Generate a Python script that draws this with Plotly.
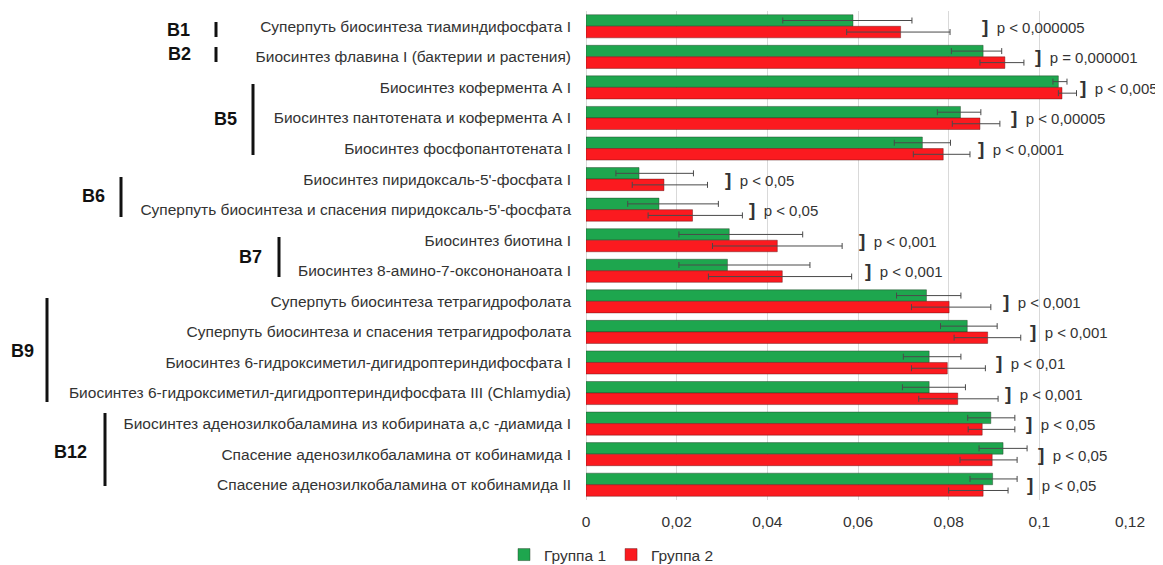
import plotly.graph_objects as go

categories = [
    "Суперпуть биосинтеза тиаминдифосфата I",
    "Биосинтез флавина I (бактерии и растения)",
    "Биосинтез кофермента А I",
    "Биосинтез пантотената и кофермента А I",
    "Биосинтез фосфопантотената I",
    "Биосинтез пиридоксаль-5'-фосфата I",
    "Суперпуть биосинтеза и спасения пиридоксаль-5'-фосфата",
    "Биосинтез биотина I",
    "Биосинтез 8-амино-7-оксононаноата I",
    "Суперпуть биосинтеза тетрагидрофолата",
    "Суперпуть биосинтеза и спасения тетрагидрофолата",
    "Биосинтез 6-гидроксиметил-дигидроптериндифосфата I",
    "Биосинтез 6-гидроксиметил-дигидроптериндифосфата III (Chlamydia)",
    "Биосинтез аденозилкобаламина из кобирината а,с -диамида I",
    "Спасение аденозилкобаламина от кобинамида I",
    "Спасение аденозилкобаламина от кобинамида II",
]

group1 = [0.0589, 0.0876, 0.1042, 0.0826, 0.0742, 0.0117, 0.0161, 0.0316,
          0.0312, 0.0751, 0.0841, 0.0757, 0.0757, 0.0893, 0.0920, 0.0897]
group1_err_plus = [0.0130, 0.0041, 0.0019, 0.0045, 0.0062, 0.0120, 0.0131, 0.0162,
                   0.0182, 0.0076, 0.0066, 0.0070, 0.0080, 0.0053, 0.0053, 0.0054]
group1_err_minus = [0.0155, 0.0070, 0.0012, 0.0051, 0.0062, 0.0051, 0.0069, 0.0111,
                    0.0107, 0.0066, 0.0059, 0.0057, 0.0059, 0.0051, 0.0053, 0.0050]

group2 = [0.0694, 0.0924, 0.1050, 0.0869, 0.0788, 0.0172, 0.0235, 0.0422,
          0.0433, 0.0801, 0.0886, 0.0797, 0.0820, 0.0874, 0.0896, 0.0876]
group2_err_plus = [0.0109, 0.0042, 0.0032, 0.0044, 0.0059, 0.0096, 0.0110, 0.0143,
                   0.0153, 0.0092, 0.0073, 0.0084, 0.0089, 0.0072, 0.0055, 0.0055]
group2_err_minus = [0.0119, 0.0055, 0.0008, 0.0061, 0.0066, 0.0070, 0.0098, 0.0143,
                    0.0163, 0.0083, 0.0074, 0.0079, 0.0086, 0.0031, 0.0071, 0.0076]

p_values = ["p < 0,000005", "p = 0,000001", "p < 0,005", "p < 0,00005", "p < 0,0001",
            "p < 0,05", "p < 0,05", "p < 0,001", "p < 0,001", "p < 0,001",
            "p < 0,001", "p < 0,01", "p < 0,001", "p < 0,05", "p < 0,05", "p < 0,05"]

tick_vals = [0, 0.02, 0.04, 0.06, 0.08, 0.10, 0.12]
tick_text = ["0", "0,02", "0,04", "0,06", "0,08", "0,1", "0,12"]

# vitamin groups: label, first row, last row
vit_groups = [("B1", 0, 0), ("B2", 1, 1), ("B5", 2, 4), ("B6", 5, 6),
              ("B7", 7, 8), ("B9", 9, 12), ("B12", 13, 15)]

# ---- layout / placement (page pixels; the page body has an 8px margin) ----
OFF = 8
W, H = 1163 - OFF, 565 - OFF
PL, PR, PT, PB = 586, 1130, 11, 500
p_label_x = [0.0870, 0.0985, 0.1086, 0.0934, 0.0861, 0.0303, 0.0356, 0.0597,
             0.0610, 0.0916, 0.0976, 0.0901, 0.0919, 0.0967, 0.0993, 0.0969]
# (label x center, label y, line x, line y0, line y1)
group_pos = [
    (178, 30, 216, 22, 37),
    (179, 54, 216, 47, 62),
    (225, 119, 253, 84, 155),
    (93, 196, 121, 177, 217),
    (250, 257, 279, 237, 277),
    (22, 351, 47, 298, 402),
    (70, 452, 105, 413, 486),
]


def px_x(px):
    return (px - PL) / (PR - PL)


def px_y(py):
    return (PB - py) / (PB - PT)


GREEN = "#1ea64e"
RED = "#fb1a1f"
FONT = "Liberation Sans, Arial, sans-serif"
FS = 15.5

fig = go.Figure()
fig.add_trace(go.Bar(
    y=categories, x=group1, orientation="h", name="Группа 1",
    marker=dict(color=GREEN, line=dict(color="rgba(40,60,40,0.55)", width=0.8)),
    error_x=dict(type="data", array=group1_err_plus, arrayminus=group1_err_minus,
                 symmetric=False, color="#4a4a4a", thickness=1, width=3),
))
fig.add_trace(go.Bar(
    y=categories, x=group2, orientation="h", name="Группа 2",
    marker=dict(color=RED, line=dict(color="rgba(90,20,20,0.55)", width=0.8)),
    error_x=dict(type="data", array=group2_err_plus, arrayminus=group2_err_minus,
                 symmetric=False, color="#4a4a4a", thickness=1, width=3),
))

annotations = []
for cat, px, txt in zip(categories, p_label_x, p_values):
    annotations.append(dict(
        x=px, y=cat, xref="x", yref="y", xanchor="left", yanchor="middle",
        text="<b><span style='font-size:19px'>]</span></b>&nbsp;&nbsp;" + txt, showarrow=False,
        font=dict(family=FONT, size=15, color="#333333"),
    ))

shapes = []
for (name, r0, r1), (lx, ly, vx, vy0, vy1) in zip(vit_groups, group_pos):
    annotations.append(dict(
        x=px_x(lx), y=px_y(ly), xref="paper", yref="paper",
        xanchor="center", yanchor="middle", text="<b>" + name + "</b>",
        showarrow=False, font=dict(family=FONT, size=18, color="#111111"),
    ))
    shapes.append(dict(
        type="line", xref="paper", yref="paper",
        x0=px_x(vx), x1=px_x(vx), y0=px_y(vy0), y1=px_y(vy1),
        line=dict(color="#111111", width=3),
    ))

fig.update_layout(
    width=W, height=H,
    margin=dict(l=PL - OFF, r=1163 - PR, t=PT - OFF, b=565 - PB, pad=0, autoexpand=False),
    paper_bgcolor="white", plot_bgcolor="white",
    barmode="group", bargap=0.245, bargroupgap=0,
    font=dict(family=FONT, size=FS, color="#333333"),
    showlegend=True,
    legend=dict(orientation="h", x=px_x(504), y=px_y(538), xanchor="left", yanchor="top",
                font=dict(family=FONT, size=FS, color="#333333"),
                itemwidth=30, traceorder="normal"),
    annotations=annotations, shapes=shapes,
    xaxis=dict(range=[0, 0.12], tickvals=tick_vals, ticktext=tick_text,
               showgrid=True, gridcolor="#d9d9d9", gridwidth=1,
               zeroline=True, zerolinecolor="#d9d9d9", zerolinewidth=1,
               showline=False, ticks="", ticklabelstandoff=10,
               tickfont=dict(family=FONT, size=FS, color="#333333")),
    yaxis=dict(autorange="reversed", categoryorder="array", categoryarray=categories,
               showgrid=False, showline=False, ticks="", ticklabelstandoff=14,
               tickfont=dict(family=FONT, size=FS, color="#333333")),
)

fig.write_html("out.html")
